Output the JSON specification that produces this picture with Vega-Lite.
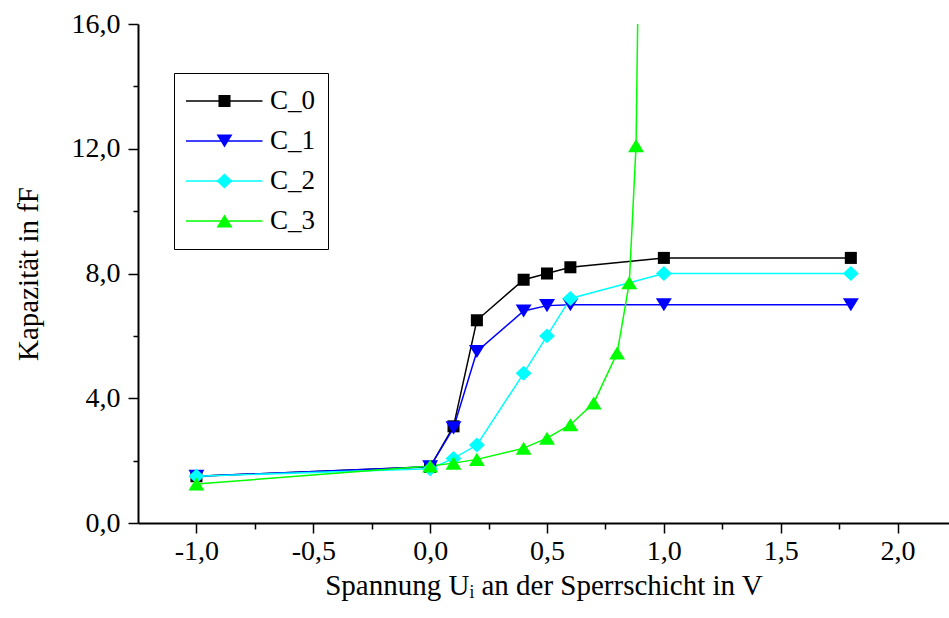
{
  "$schema": "https://vega.github.io/schema/vega-lite/v6.json",
  "width": 811,
  "height": 499,
  "autosize": "none",
  "padding": {"left": 138, "top": 24, "right": 0, "bottom": 95},
  "background": "white",
  "config": {
    "view": {"stroke": null},
    "font": "Liberation Serif",
    "axis": {
      "grid": false,
      "domainColor": "black",
      "domainWidth": 2,
      "tickColor": "black",
      "tickWidth": 1.5,
      "labelFont": "Liberation Serif",
      "labelFontSize": 28,
      "labelColor": "black",
      "titleFont": "Liberation Serif",
      "titleFontSize": 29,
      "titleFontWeight": "normal",
      "titleColor": "black"
    },
    "legend": {
      "labelFont": "Liberation Serif",
      "labelFontSize": 27,
      "labelColor": "black"
    }
  },
  "data": {
    "values": [
      {"u": -1.0, "c": 1.5, "s": "C_0"},
      {"u": 0.0, "c": 1.8, "s": "C_0"},
      {"u": 0.1, "c": 3.1, "s": "C_0"},
      {"u": 0.2, "c": 6.5, "s": "C_0"},
      {"u": 0.4, "c": 7.8, "s": "C_0"},
      {"u": 0.5, "c": 8.0, "s": "C_0"},
      {"u": 0.6, "c": 8.2, "s": "C_0"},
      {"u": 1.0, "c": 8.5, "s": "C_0"},
      {"u": 1.8, "c": 8.5, "s": "C_0"},
      {"u": -1.0, "c": 1.5, "s": "C_1"},
      {"u": 0.0, "c": 1.8, "s": "C_1"},
      {"u": 0.1, "c": 3.05, "s": "C_1"},
      {"u": 0.2, "c": 5.5, "s": "C_1"},
      {"u": 0.4, "c": 6.8, "s": "C_1"},
      {"u": 0.5, "c": 6.97, "s": "C_1"},
      {"u": 0.6, "c": 7.0, "s": "C_1"},
      {"u": 1.0, "c": 7.0, "s": "C_1"},
      {"u": 1.8, "c": 7.0, "s": "C_1"},
      {"u": -1.0, "c": 1.5, "s": "C_2"},
      {"u": 0.0, "c": 1.74, "s": "C_2"},
      {"u": 0.1, "c": 2.07, "s": "C_2"},
      {"u": 0.2, "c": 2.5, "s": "C_2"},
      {"u": 0.4, "c": 4.8, "s": "C_2"},
      {"u": 0.5, "c": 6.0, "s": "C_2"},
      {"u": 0.6, "c": 7.2, "s": "C_2"},
      {"u": 1.0, "c": 8.0, "s": "C_2"},
      {"u": 1.8, "c": 8.0, "s": "C_2"},
      {"u": -1.0, "c": 1.25, "s": "C_3"},
      {"u": 0.0, "c": 1.83, "s": "C_3"},
      {"u": 0.1, "c": 1.92, "s": "C_3"},
      {"u": 0.2, "c": 2.04, "s": "C_3"},
      {"u": 0.4, "c": 2.4, "s": "C_3"},
      {"u": 0.5, "c": 2.72, "s": "C_3"},
      {"u": 0.6, "c": 3.15, "s": "C_3"},
      {"u": 0.7, "c": 3.85, "s": "C_3"},
      {"u": 0.8, "c": 5.45, "s": "C_3"},
      {"u": 0.852, "c": 7.7, "s": "C_3"},
      {"u": 0.881, "c": 12.1, "s": "C_3"},
      {"u": 0.895, "c": 20.0, "s": "C_3"}
    ]
  },
  "encoding": {
    "x": {
      "field": "u",
      "type": "quantitative",
      "scale": {"domain": [-1.25, 2.22], "nice": false, "zero": false},
      "axis": {
        "title": "Spannung Uᵢ an der Sperrschicht in V",
        "values": [-1.0, -0.75, -0.5, -0.25, 0.0, 0.25, 0.5, 0.75, 1.0, 1.25, 1.5, 1.75, 2.0],
        "tickSize": {"condition": {"test": "abs(datum.value*2-round(datum.value*2))<0.001", "value": 10}, "value": 6},
        "labelExpr": "abs(datum.value*2-round(datum.value*2))<0.001 ? replace(replace(format(datum.value, '.1f'), '.', ','), '\u2212', '-') : ''",
        "labelPadding": 4,
        "titlePadding": 6
      }
    },
    "y": {
      "field": "c",
      "type": "quantitative",
      "scale": {"domain": [0, 16], "nice": false},
      "axis": {
        "title": "Kapazität in fF",
        "values": [0, 2, 4, 6, 8, 10, 12, 14, 16],
        "tickSize": {"condition": {"test": "datum.value % 4 == 0", "value": 10}, "value": 5},
        "labelExpr": "datum.value % 4 == 0 ? replace(format(datum.value, '.1f'), '.', ',') : ''",
        "labelPadding": 8,
        "titlePadding": 28
      }
    }
  },
  "layer": [
    {
      "mark": {"type": "line", "strokeWidth": 1.5, "clip": true},
      "encoding": {
        "stroke": {
          "field": "s",
          "type": "nominal",
          "scale": {"range": ["#000000", "#0000ff", "#00ffff", "#00ff00"]},
          "legend": {
            "title": null,
            "orient": "none",
            "legendX": 36,
            "legendY": 49,
            "padding": 12,
            "strokeColor": "black",
            "symbolType": "M-2.14,0H9",
            "symbolSize": 196,
            "symbolStrokeWidth": 1.5,
            "clipHeight": 32,
            "rowPadding": 8,
            "labelOffset": 57,
            "zindex": 0
          }
        }
      }
    },
    {
      "mark": {"type": "point", "filled": true, "opacity": 1, "size": 196, "strokeWidth": 0, "clip": true},
      "encoding": {
        "fill": {
          "field": "s",
          "type": "nominal",
          "scale": {"domain": ["C_0", "C_1", "C_2", "C_3"], "range": ["#000000", "#0000ff", "#00ffff", "#00ff00"]},
          "legend": {
            "title": null,
            "orient": "none",
            "legendX": 36,
            "legendY": 49,
            "padding": 12,
            "symbolSize": 196,
            "symbolStrokeWidth": 0,
            "symbolOffset": 25,
            "clipHeight": 32,
            "rowPadding": 8,
            "labelExpr": "''",
            "zindex": 1
          }
        },
        "shape": {
          "field": "s",
          "type": "nominal",
          "scale": {
            "domain": ["C_0", "C_1", "C_2", "C_3"],
            "range": [
              "M-0.86,-0.86H0.86V0.86H-0.86Z",
              "M-1.14,-0.93H1.14L0,0.93Z",
              "M0,-1.07L1.14,0L0,1.07L-1.14,0Z",
              "M0,-0.93L1.14,0.93L-1.14,0.93Z"
            ]
          },
          "legend": {
            "title": null,
            "orient": "none",
            "legendX": 36,
            "legendY": 49,
            "padding": 12,
            "symbolSize": 196,
            "symbolStrokeWidth": 0,
            "symbolOffset": 25,
            "clipHeight": 32,
            "rowPadding": 8,
            "labelExpr": "''",
            "zindex": 1
          }
        }
      }
    }
  ]
}
